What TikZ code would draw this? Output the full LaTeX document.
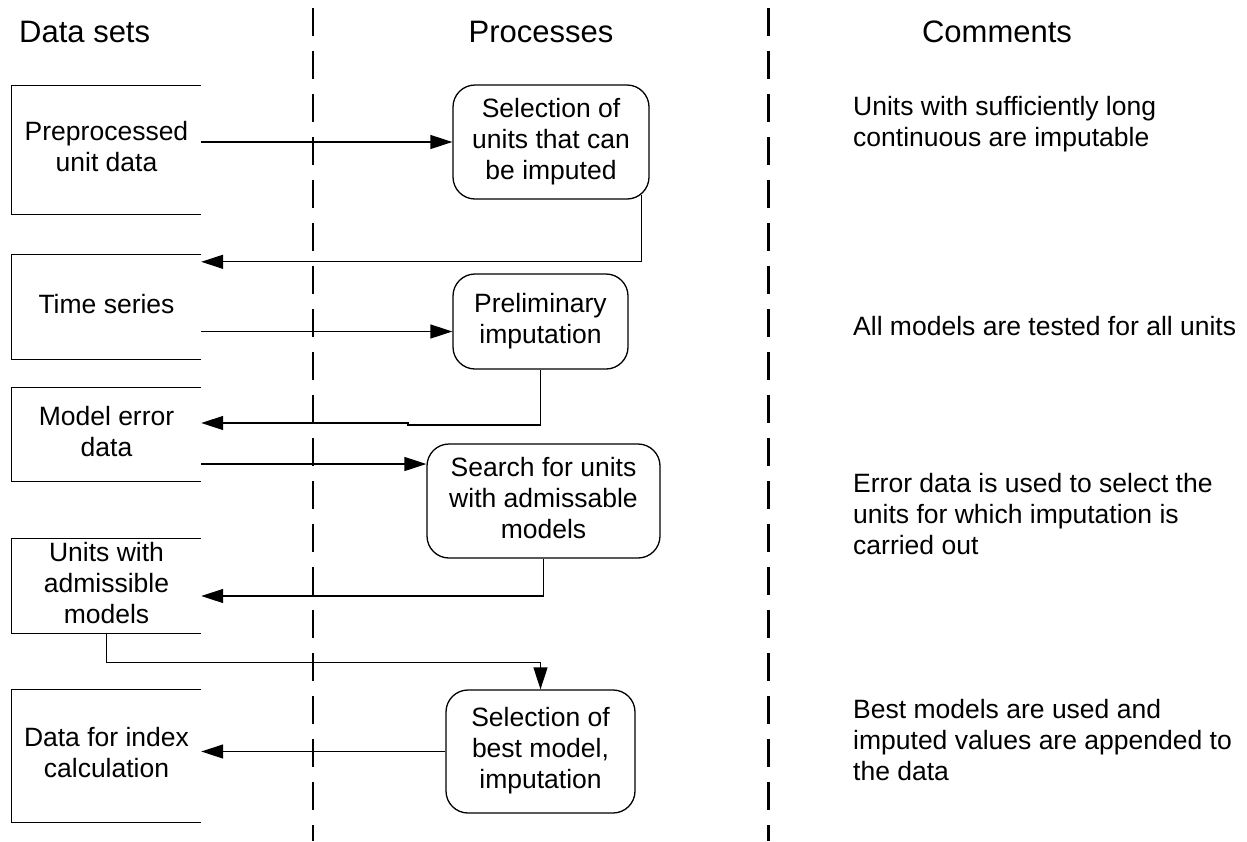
\documentclass[tikz,border=0pt]{standalone}
\usepackage{fontspec}
\setmainfont{Liberation Sans}
\usetikzlibrary{arrows.meta,calc}
\begin{document}
\begin{tikzpicture}[x=1pt,y=-1pt,
  bodyfont/.style={font=\fontsize{26.5}{31}\selectfont},
  headfont/.style={font=\fontsize{31}{36}\selectfont},
  procbox/.style={draw, line width=1.3pt, rounded corners=22pt, align=center, inner sep=0pt, bodyfont},
  databox/.style={align=center, inner sep=0pt, minimum width=189pt, bodyfont},
  boxline/.style={line width=1.3pt},
  arr/.style={line width=1.3pt, -{Triangle[length=22pt,width=14pt]}},
  divider/.style={line width=2.5pt, dash pattern=on 28pt off 15pt},
  comment/.style={anchor=north west, align=left, inner sep=0pt, bodyfont},
  header/.style={anchor=base, inner sep=0pt, headfont},
]
\useasboundingbox (0,0) rectangle (1247,841);

% headers
\node[header, anchor=base west] (hdata) at (19,42) {Data sets};
\node[header] (hproc) at (541,42) {Processes};
\node[header] (hcomm) at (997,42) {Comments};

% dividers
\draw[divider] (313,8) -- (313,841);
\draw[divider] (768.5,8) -- (768.5,841);

% data sets
\node[databox, minimum height=128pt] (B1) at (106.5,150) {\strut Preprocessed\\\strut unit data};
\node[databox, minimum height=104pt] (B2) at (106.5,307) {\strut Time series};
\node[databox, minimum height=93pt] (B3) at (106.5,434.5) {\strut Model error\\\strut data};
\node[databox, minimum height=94pt] (B4) at (106.5,586) {\strut Units with\\\strut admissible\\\strut models};
\node[databox, minimum height=132pt] (B5) at (106.5,756) {\strut Data for index\\\strut calculation};
\foreach \b in {B1,B2,B3,B4,B5}{
  \draw[boxline] (\b.north east) -- (\b.north west) -- (\b.south west) -- (\b.south east);
}

% processes
\node[procbox, minimum width=196pt, minimum height=114pt] (sel1) at (551,142)
  {\strut Selection of\\\strut units that can\\\strut be imputed};
\node[procbox, minimum width=175pt, minimum height=95pt] (prelim) at (540.5,321.5)
  {\strut Preliminary\\\strut imputation};
\node[procbox, minimum width=233pt, minimum height=114pt] (search) at (543.5,501)
  {\strut Search for units\\\strut with admissable\\\strut models};
\node[procbox, minimum width=189pt, minimum height=123pt] (best) at (540.5,751.5)
  {\strut Selection of\\\strut best model,\\\strut imputation};

% comments
\node[comment] (c1) at (853,93.3) {\strut Units with sufficiently long\\\strut continuous are imputable};
\node[comment] (c2) at (853,313.3) {\strut All models are tested for all units};
\node[comment] (c3) at (853,470.3) {\strut Error data is used to select the\\\strut units for which imputation is\\\strut carried out};
\node[comment] (c4) at (853,696.3) {\strut Best models are used and\\\strut imputed values are appended to\\\strut the data};

% connectors
\draw[arr] (B1.east |- sel1.west) -- (sel1.west);
\draw[arr] ([xshift=-8pt,yshift=5pt]sel1.south east) |- ([yshift=-7pt]B2.north east);
\coordinate (pin) at ([yshift=-10pt]prelim.west);
\draw[arr] (B2.east |- pin) -- (pin);
\coordinate (j1) at (408,425);
\coordinate (j2) at (408,423);
\draw[arr] (prelim.south) |- (j1) -- (j2) -- (j2 -| B3.east);
\coordinate (sin) at ([yshift=37pt]search.west);
\draw[arr] (B3.east |- sin) -- (sin);
\draw[arr] (search.south) |- ([yshift=-10pt]B4.east);
\draw[arr] (B4.south) -- ++(0,29) -| (best.north);
\draw[arr] (best.west) -- (best.west -| B5.east);
\end{tikzpicture}
\end{document}
